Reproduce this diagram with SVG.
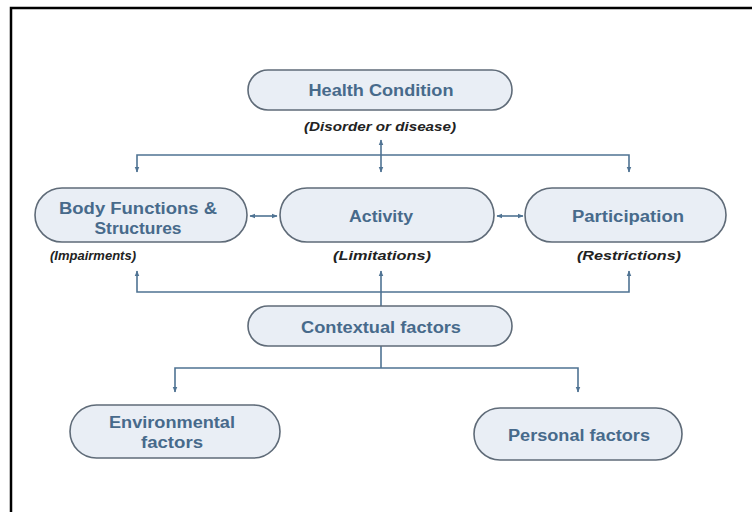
<svg xmlns="http://www.w3.org/2000/svg" width="752" height="512" viewBox="0 0 752 512">
<defs>
<style>
.box{fill:#e9eef5;stroke:#5f6b78;stroke-width:1.6}
.t{font-family:"Liberation Sans",Arial,sans-serif;font-weight:bold;font-size:16px;fill:#476a8b;text-anchor:middle}
.l{font-family:"Liberation Sans",Arial,sans-serif;font-weight:bold;font-style:italic;font-size:13px;fill:#222;text-anchor:middle}
.c{fill:none;stroke:#4f7393;stroke-width:1.6}
</style>
<marker id="ah" viewBox="0 0 10 10" refX="9" refY="5" markerWidth="6" markerHeight="6" orient="auto-start-reverse" markerUnits="userSpaceOnUse">
<path d="M0,1 L10,5 L0,9 z" fill="#4f7393"/>
</marker>
</defs>
<rect width="752" height="512" fill="#fff"/>
<path d="M11,512 V8 H752" fill="none" stroke="#000" stroke-width="2.5"/>

<g id="connectors">
<path class="c" d="M137,172 V155 H629 V172" marker-start="url(#ah)" marker-end="url(#ah)"/>
<path class="c" d="M381,140 V172" marker-start="url(#ah)" marker-end="url(#ah)"/>
<path class="c" d="M250,216 H277" marker-start="url(#ah)" marker-end="url(#ah)"/>
<path class="c" d="M497,216 H523" marker-start="url(#ah)" marker-end="url(#ah)"/>
<path class="c" d="M137,271 V292 H629 V271" marker-start="url(#ah)" marker-end="url(#ah)"/>
<path class="c" d="M381,306 V271" marker-end="url(#ah)"/>
<path class="c" d="M175,392 V368 H578 V392" marker-start="url(#ah)" marker-end="url(#ah)"/>
<path class="c" d="M381,346 V368"/>
</g>

<g id="health">
<rect class="box" x="248" y="70" width="264" height="40" rx="20"/>
<text class="t" x="381" y="96" textLength="145" lengthAdjust="spacingAndGlyphs">Health Condition</text>
<text class="l" x="380" y="131" textLength="152" lengthAdjust="spacingAndGlyphs">(Disorder or disease)</text>
</g>
<g id="body">
<rect class="box" x="35" y="188" width="212" height="54" rx="27"/>
<text class="t" x="138" y="214" textLength="158" lengthAdjust="spacingAndGlyphs">Body Functions &amp;</text>
<text class="t" x="138" y="234" textLength="87" lengthAdjust="spacingAndGlyphs">Structures</text>
<text class="l" x="93" y="260">(Impairments)</text>
</g>
<g id="activity">
<rect class="box" x="280" y="188" width="214" height="54" rx="27"/>
<text class="t" x="381" y="222" textLength="64" lengthAdjust="spacingAndGlyphs">Activity</text>
<text class="l" x="382" y="260" textLength="98" lengthAdjust="spacingAndGlyphs">(Limitations)</text>
</g>
<g id="participation">
<rect class="box" x="525" y="188" width="201" height="54" rx="27"/>
<text class="t" x="628" y="222" textLength="112" lengthAdjust="spacingAndGlyphs">Participation</text>
<text class="l" x="629" y="260" textLength="104" lengthAdjust="spacingAndGlyphs">(Restrictions)</text>
</g>
<g id="contextual">
<rect class="box" x="248" y="306" width="264" height="40" rx="20"/>
<text class="t" x="381" y="333" textLength="160" lengthAdjust="spacingAndGlyphs">Contextual factors</text>
</g>
<g id="environmental">
<rect class="box" x="70" y="405" width="210" height="53" rx="26.5"/>
<text class="t" x="172" y="428" textLength="126" lengthAdjust="spacingAndGlyphs">Environmental</text>
<text class="t" x="172" y="448" textLength="62" lengthAdjust="spacingAndGlyphs">factors</text>
</g>
<g id="personal">
<rect class="box" x="474" y="408" width="208" height="52" rx="26"/>
<text class="t" x="579" y="441" textLength="142" lengthAdjust="spacingAndGlyphs">Personal factors</text>
</g>
</svg>
